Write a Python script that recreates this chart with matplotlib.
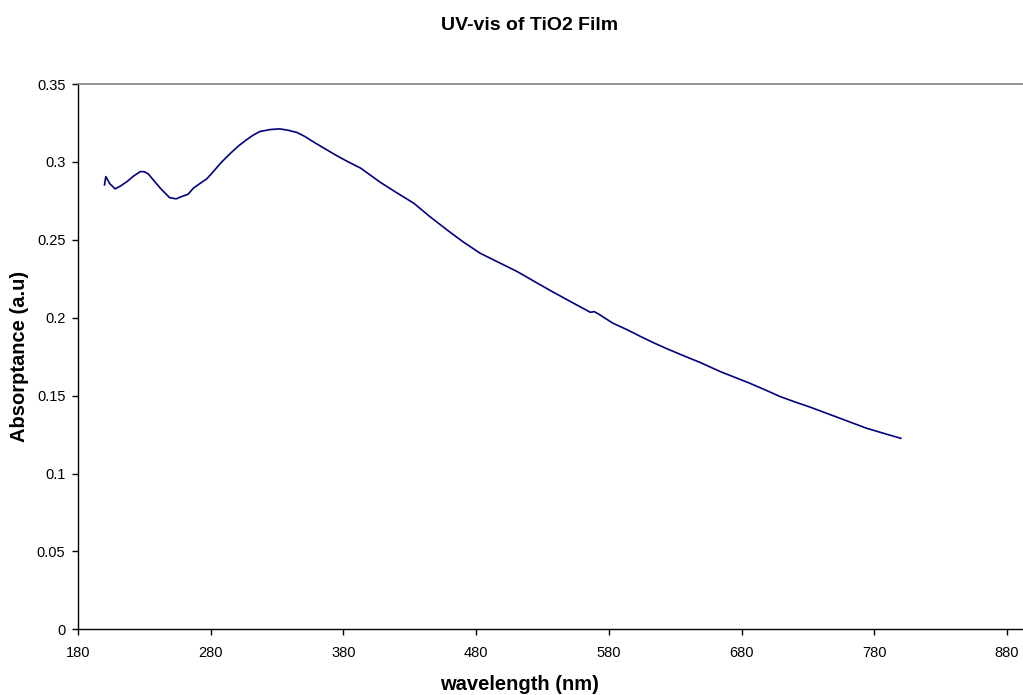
import matplotlib
matplotlib.use("Agg")
import matplotlib.pyplot as plt

plt.rcParams['font.family'] = ['Liberation Sans', 'DejaVu Sans']

# UV-vis absorptance spectrum of a TiO2 film
wavelength_nm = [200, 201, 204, 208, 212, 217, 222, 227, 230, 233, 237, 242,
                 249, 254, 257, 263, 267, 272, 277, 282, 288, 295, 301, 307,
                 312, 317, 325, 332, 338, 345, 351, 357, 365, 374, 383, 393,
                 408, 420, 433, 445, 458, 470, 483, 497, 511, 523, 536, 551,
                 566, 569, 572, 583, 594, 604, 614, 624, 636, 649, 664, 675,
                 686, 698, 709, 720, 732, 743, 754, 764, 774, 787, 800]
absorptance = [0.2853, 0.2906, 0.2860, 0.2827, 0.2845, 0.2874, 0.2910, 0.2938,
               0.2937, 0.2923, 0.2882, 0.2832, 0.2771, 0.2763, 0.2774, 0.2793,
               0.2832, 0.2862, 0.2891, 0.2938, 0.2997, 0.3056, 0.3103, 0.3142,
               0.3172, 0.3195, 0.3208, 0.3212, 0.3204, 0.3189, 0.3163, 0.3131,
               0.3090, 0.3045, 0.3003, 0.2960, 0.2868, 0.2803, 0.2735, 0.2650,
               0.2564, 0.2488, 0.2414, 0.2355, 0.2296, 0.2237, 0.2174, 0.2104,
               0.2035, 0.2039, 0.2025, 0.1965, 0.1922, 0.1879, 0.1838, 0.1800,
               0.1757, 0.1712, 0.1654, 0.1617, 0.1580, 0.1536, 0.1494, 0.1460,
               0.1425, 0.1390, 0.1355, 0.1323, 0.1291, 0.1258, 0.1226]

x_ticks = [180, 280, 380, 480, 580, 680, 780, 880]
y_ticks = [0, 0.05, 0.1, 0.15, 0.2, 0.25, 0.3, 0.35]
y_tick_labels = ['0', '0.05', '0.1', '0.15', '0.2', '0.25', '0.3', '0.35']

fig = plt.figure(figsize=(10.23, 6.95), dpi=100)
ax = fig.add_axes([0.0762, 0.0945, 0.9238, 0.7846])

ax.plot(wavelength_nm, absorptance, color='#000080', linewidth=1.2)

ax.set_xlim(180, 892)
ax.set_ylim(0, 0.35)
ax.set_xticks(x_ticks)
ax.set_xticklabels([str(t) for t in x_ticks])
ax.set_yticks(y_ticks)
ax.set_yticklabels(y_tick_labels)

ax.spines['right'].set_visible(False)
ax.spines['top'].set_color('#808080')
ax.spines['top'].set_linewidth(1.2)
ax.spines['left'].set_color('black')
ax.spines['bottom'].set_color('black')
ax.spines['left'].set_linewidth(1.0)
ax.spines['bottom'].set_linewidth(1.0)

ax.tick_params(axis='both', direction='out', length=4, width=1.0,
               labelsize=10.5, colors='black')
ax.tick_params(axis='x', pad=8)
ax.tick_params(axis='y', pad=5)

ax.set_xlabel('wavelength (nm)', fontsize=14.5, fontweight='bold')
ax.set_ylabel('Absorptance (a.u)', fontsize=14.5, fontweight='bold')
ax.xaxis.set_label_coords(0.4676, -0.101)
ax.yaxis.set_label_coords(-0.0615, 0.5)
ax.xaxis.label.set_va('center')
ax.yaxis.label.set_va('center')

fig.text(0.518, 0.963, 'UV-vis of TiO2 Film', ha='center', va='center',
         fontsize=14, fontweight='bold')

fig.savefig('out.png', dpi=100)
